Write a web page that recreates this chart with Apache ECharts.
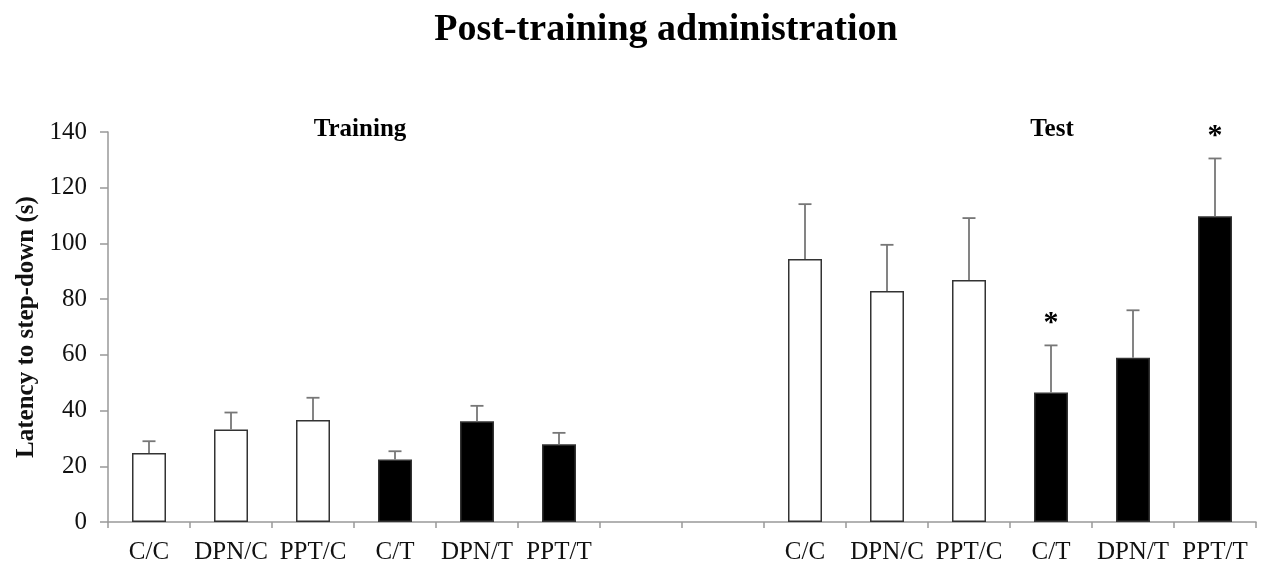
<!DOCTYPE html>
<html>
<head>
<meta charset="utf-8">
<script src="https://cdn.jsdelivr.net/npm/echarts@6/dist/echarts.min.js"></script>
<style>html,body{margin:0;padding:0;background:#fff;}#c{width:1269px;height:571px;}</style>
</head>
<body>
<div id="c"></div>
<script>
var categories = ['C/C','DPN/C','PPT/C','C/T','DPN/T','PPT/T','','','C/C','DPN/C','PPT/C','C/T','DPN/T','PPT/T'];
var means = [24.8, 33.2, 36.6, 22.4, 36.2, 27.9, null, null, 94.4, 82.9, 86.9, 46.5, 59.0, 109.8];
var errors = [4.2, 6.1, 8.0, 3.0, 5.5, 4.1, null, null, 19.7, 16.6, 22.2, 16.9, 17.0, 20.7];
var groupType = ['C','C','C','T','T','T','','','C','C','C','T','T','T'];
var significance = ['','','','','','','','','','','','*','','*'];
var yTicks = [0, 20, 40, 60, 80, 100, 120, 140];

var FONT = '"Liberation Serif", "Times New Roman", serif';
var chart = echarts.init(document.getElementById('c'));

var barData = means.map(function (v, i) {
  return {
    value: v,
    itemStyle: { color: groupType[i] === 'T' ? '#000000' : '#ffffff' }
  };
});
var errData = means.map(function (v, i) {
  return v == null ? [i, null, null, ''] : [i, v, v + errors[i], significance[i]];
});

chart.setOption({
  animation: false,
  backgroundColor: '#ffffff',
  title: [
    { text: 'Post-training administration', left: 661, top: 6, textAlign: 'center',
      textStyle: { fontFamily: FONT, fontWeight: 'bold', fontSize: 38, color: '#000' } },
    { text: 'Training', left: 355, top: 112, textAlign: 'center',
      textStyle: { fontFamily: FONT, fontWeight: 'bold', fontSize: 25, color: '#000' } },
    { text: 'Test', left: 1047, top: 112, textAlign: 'center',
      textStyle: { fontFamily: FONT, fontWeight: 'bold', fontSize: 25, color: '#000' } }
  ],
  grid: { left: 108, right: 13, top: 132, bottom: 49, containLabel: false, outerBoundsMode: 'none' },
  xAxis: {
    type: 'category',
    data: categories,
    axisLine: { lineStyle: { color: '#999', width: 1.5 } },
    axisTick: { show: true, length: 6, lineStyle: { color: '#999', width: 1.5 } },
    axisLabel: { fontFamily: FONT, fontSize: 25, color: '#111', margin: 18, interval: 0 }
  },
  yAxis: {
    type: 'value',
    min: 0, max: 140, interval: 20,
    name: 'Latency to step-down (s)',
    nameLocation: 'middle',
    nameGap: 68,
    nameTextStyle: { fontFamily: FONT, fontWeight: 'bold', fontSize: 25, color: '#111' },
    axisLine: { show: true, lineStyle: { color: '#999', width: 1.5 } },
    axisTick: { show: true, length: 8, lineStyle: { color: '#999', width: 1.5 } },
    splitLine: { show: false },
    axisLabel: { fontFamily: FONT, fontSize: 25, color: '#111', margin: 21,
      formatter: function (v) { return yTicks.indexOf(v) >= 0 ? String(v) : ''; } }
  },
  series: [
    {
      type: 'bar',
      data: barData,
      barWidth: 34,
      itemStyle: { borderColor: '#333', borderWidth: 1.5 }
    },
    {
      type: 'custom',
      data: errData,
      z: 5,
      renderItem: function (params, api) {
        if (api.value(1) == null || isNaN(api.value(1))) return;
        var i = api.value(0);
        var base = api.coord([i, api.value(1)]);
        var top = api.coord([i, api.value(2)]);
        var half = 6.5;
        var style = { stroke: '#777', lineWidth: 1.8 };
        var children = [
          { type: 'line', shape: { x1: base[0], y1: base[1], x2: top[0], y2: top[1] }, style: style },
          { type: 'line', shape: { x1: top[0] - half, y1: top[1], x2: top[0] + half, y2: top[1] }, style: style }
        ];
        var sig = errData[params.dataIndex][3];
        if (sig) {
          children.push({
            type: 'text',
            style: { text: sig, x: top[0], y: top[1] - 7, align: 'center', verticalAlign: 'bottom',
              font: 'bold 30px ' + FONT, fill: '#000' }
          });
        }
        return { type: 'group', children: children };
      }
    }
  ]
});
</script>
</body>
</html>
